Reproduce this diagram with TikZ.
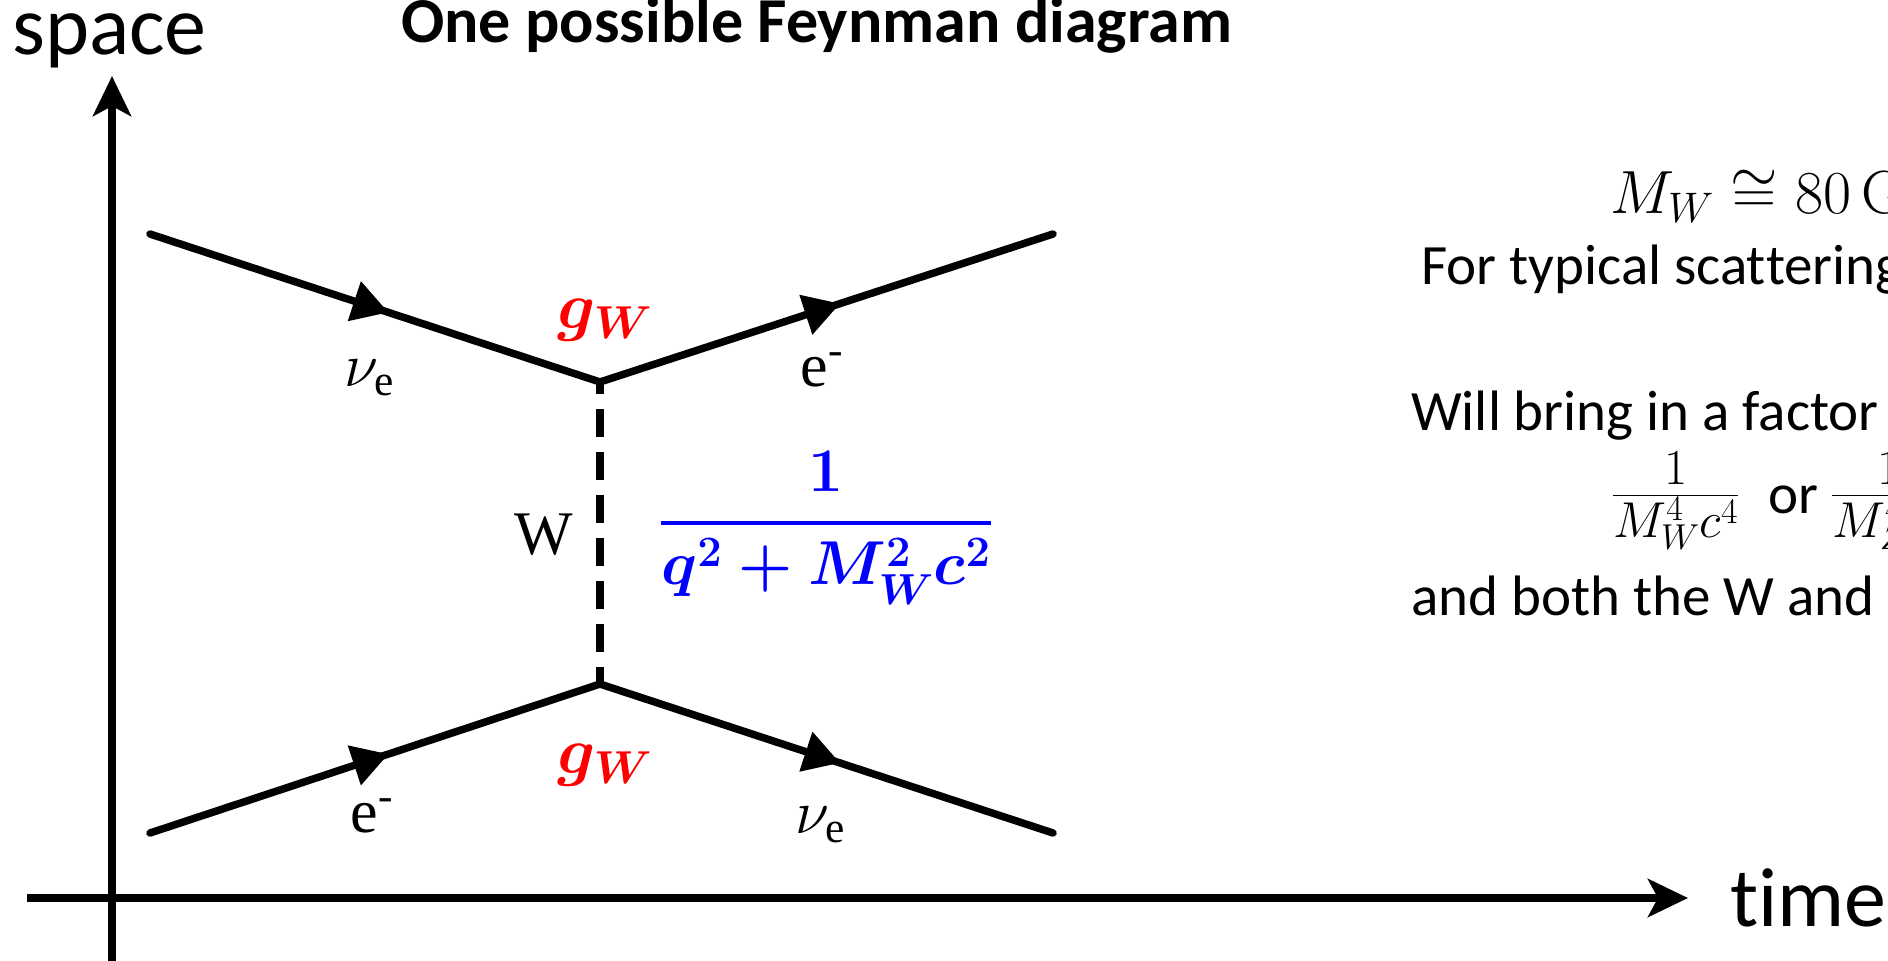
\RequirePackage{fix-cm}
\documentclass[tikz,border=0pt]{standalone}
\usepackage{amsmath}
\usepackage[no-math]{fontspec}
\setmainfont{Carlito}[Ligatures=NoCommon]
\newfontfamily\timesf{Liberation Serif}
\usetikzlibrary{arrows.meta,decorations.markings}
\definecolor{gred}{RGB}{255,0,0}
\definecolor{pblue}{RGB}{0,0,255}
\tikzset{
  axisline/.style={line width=8pt, -{Stealth[length=40pt,width=38pt,inset=10pt]}},
  fermion/.style={line width=7.5pt, line cap=round, postaction={decorate},
    decoration={markings, mark=at position 0.53 with {\arrow{Triangle[length=36pt,width=40pt]}}}},
  boson/.style={line width=8pt, dash pattern=on 28pt off 15pt, dash phase=16pt},
  lbl/.style={font=\timesf\fontsize{62}{64}\selectfont, inner sep=0pt},
  coupling/.style={font=\fontsize{66}{68}\selectfont\boldmath, text=gred, inner sep=0pt},
  bigtext/.style={font=\fontsize{84}{86}\selectfont, inner sep=0pt, anchor=base west},
  note/.style={font=\fontsize{57}{60}\selectfont, inner sep=0pt, anchor=base west},
}
\begin{document}
\begin{tikzpicture}[x=1pt,y=-1pt]
\useasboundingbox (0,0) rectangle (1888,961);
\clip (0,0) rectangle (1888,961);
% axes
\coordinate (yb) at (112,961);
\coordinate (yt) at (112,76);
\coordinate (xl) at (27,898);
\coordinate (xr) at (1688,898);
\draw[axisline] (yb) -- (yt);
\draw[axisline] (xl) -- (xr);
\node[bigtext] (space) at (12,54) {space};
\node[bigtext] (time) at (1730,926) {time};
\node[anchor=base west, inner sep=0pt, font=\fontsize{64}{66}\selectfont\bfseries] (title) at (401,42) {One possible Feynman diagram};
% Feynman diagram
\coordinate (a1) at (150,234);
\coordinate (v1) at (600,382);
\coordinate (a2) at (1053,234);
\coordinate (b1) at (150,833);
\coordinate (v2) at (600,684);
\coordinate (b2) at (1053,833);
\draw[fermion] (a1) -- (v1);
\draw[fermion] (v1) -- (a2);
\draw[fermion] (b1) -- (v2);
\draw[fermion] (v2) -- (b2);
\draw[boson] (v1) -- (v2);
\node[lbl] (nu1) at (369,378) {$\nu_{\text{e}}$};
\node[lbl] (e1) at (822,370) {e\textsuperscript{-}};
\node[lbl] (W) at (544,535) {W};
\node[lbl] (e2) at (372,816) {e\textsuperscript{-}};
\node[lbl] (nu2) at (820,825) {$\nu_{\text{e}}$};
\node[coupling] (g1) at (605,320) {$g_W$};
\node[coupling] (g2) at (605,765) {$g_W$};
\node[anchor=base, inner sep=0pt, text=pblue, font=\fontsize{62}{64}\selectfont\boldmath] (prop) at (826,538)
  {$\displaystyle\genfrac{}{}{4pt}{0}{1}{q^2+M_W^2c^2}$};
% right text
\node[note, font=\fontsize{61}{63}\selectfont] (mw) at (1610,213) {$M_W \cong 80\,\mathrm{GeV}/c^2$};
\node[note] (typ) at (1421,284) {For typical scat\kern0pt tering energies};
\node[note] (will) at (1411,430) {Will bring in a factor of};
\node[note] (frac) at (1612,513) {{\fontsize{72}{74}\selectfont$\frac{1}{M_W^4c^4}$}\hspace{16pt} or {\fontsize{72}{74}\selectfont$\frac{1}{M_Z^4c^4}$}};
\node[note] (both) at (1411,615) {and both the W and Z};
\end{tikzpicture}
\end{document}
